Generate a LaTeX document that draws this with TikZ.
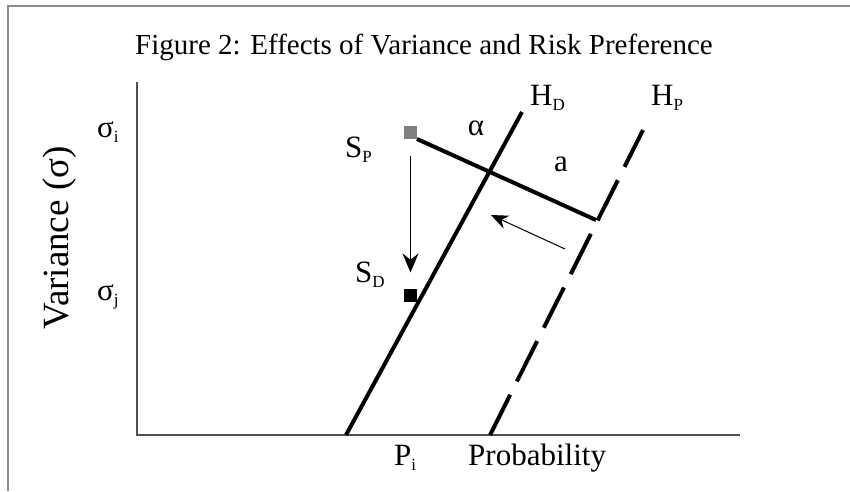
\documentclass[tikz,border=0pt]{standalone}
\usepackage{fontspec}
\setmainfont{Liberation Serif}
\usetikzlibrary{arrows.meta}

\definecolor{figFrame}{RGB}{140,140,140}
\definecolor{figAxis}{RGB}{80,80,80}
\definecolor{figStateP}{RGB}{128,128,128}
\definecolor{figStateD}{RGB}{0,0,0}

\newcommand{\subLabel}[1]{\raisebox{-5pt}{\fontsize{17}{18}\selectfont #1}}

\begin{document}
\begin{tikzpicture}[x=1pt,y=-1pt,
      txt/.style={font=\fontsize{31}{33}\selectfont, inner sep=0pt,
        anchor=base west},
      title/.style={font=\fontsize{29}{31}\selectfont, inner sep=0pt,
        anchor=base},
      axisname/.style={font=\fontsize{37}{39}\selectfont, inner sep=0pt,
        anchor=base, rotate=90},
      state/.style={minimum size=13pt, inner sep=0pt, outer sep=0pt},
      curve/.style={line width=4pt},
      moveArrow/.style={line width=1.2pt, -{Stealth[length=19pt,width=16pt]}},
      slideArrow/.style={line width=1pt, -{Stealth[length=17pt,width=14pt]}}]
      \useasboundingbox (0,0) rectangle (850,491);
      \fill[white] (0,0) rectangle (850,491);

      % frame and title
      \draw[figFrame, line width=1.5pt] (8,491) -- (8,6) -- (850,6);
      \node[title] (heading) at (424,54)
        {Figure 2: Effects of Variance and Risk Preference};

      % axes
      \coordinate (yTop) at (137,82);
      \coordinate (origin) at (137,435);
      \coordinate (xEnd) at (740,435);
      \draw[figAxis, line width=1.5pt] (yTop) -- (origin) -- (xEnd);
      \node[axisname] (varName) at (68,238) {Variance (σ)};
      \node[txt] (sigI) at (97,137) {σ\subLabel{i}};
      \node[txt] (sigJ) at (97,300) {σ\subLabel{j}};
      \node[txt] (probI) at (394,465) {P\subLabel{i}};
      \node[txt] (probName) at (468,465) {Probability};

      % indifference lines
      \coordinate (hdBottom) at (346,435);
      \coordinate (hdTop) at (522,112);
      \coordinate (hpBottom) at (490,435);
      \coordinate (hpTop) at (643,130);
      \draw[curve] (hdBottom) -- (hdTop);
      \draw[curve, dash pattern=on 45pt off 15pt] (hpBottom) -- (hpTop);
      \node[txt] (hdName) at (530,105) {H\subLabel{D}};
      \node[txt] (hpName) at (651,105) {H\subLabel{P}};

      % states
      \node[state, fill=figStateP] (spBox) at (410.5,132.5) {};
      \node[state, fill=figStateD] (sdBox) at (410.5,295) {};
      \node[txt] (spName) at (345,157) {S\subLabel{P}};
      \node[txt] (sdName) at (355,282) {S\subLabel{D}};

      \coordinate (aEnd) at (596,220);
      \draw[curve] (spBox.south east) -- (aEnd);
      \node[txt, anchor=base] (alphaName) at (476,135) {α};
      \node[txt, anchor=base] (aName) at (561,171) {a};

      % shifts
      \draw[moveArrow, shorten <=16.5pt, shorten >=16pt]
        (spBox.south) -- (sdBox.north);
      \coordinate (shiftStart) at (565,249);
      \coordinate (shiftEnd) at (491,215);
      \draw[slideArrow] (shiftStart) -- (shiftEnd);
    \end{tikzpicture}
\end{document}
